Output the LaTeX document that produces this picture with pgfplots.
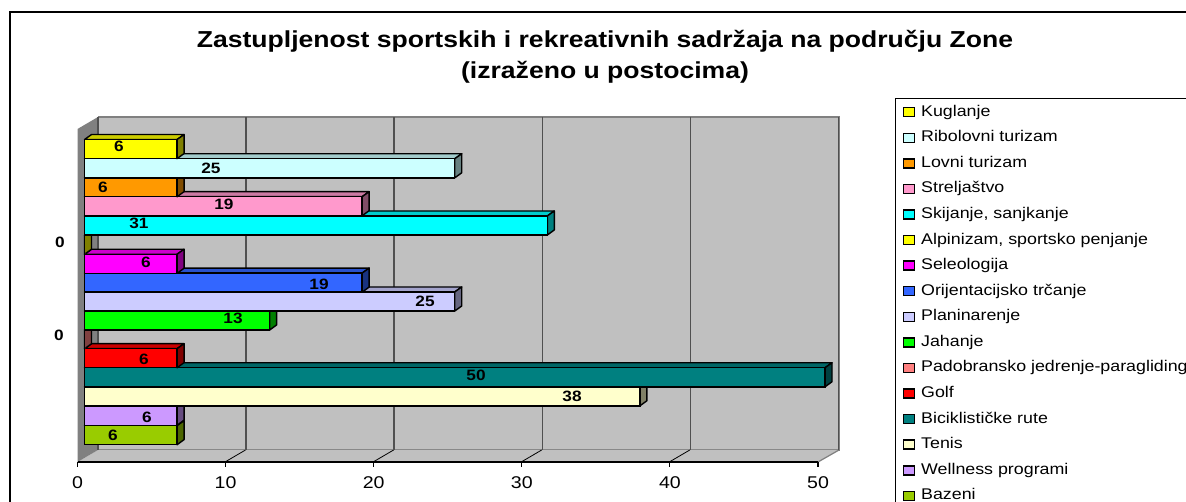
\documentclass[border=0pt]{standalone}
\usepackage{fontspec}
\setmainfont[FakeStretch=1.15]{Liberation Sans}
\usepackage{pgfplots}
\pgfplotsset{compat=1.18}
\definecolor{wallgray}{HTML}{C0C0C0}
\definecolor{sidegray}{HTML}{808080}
\definecolor{gridgray}{HTML}{505050}
\definecolor{cBazeni}{HTML}{99CC00}
\definecolor{cWellness}{HTML}{CC99FF}
\definecolor{cTenis}{HTML}{FFFFCC}
\definecolor{cBicikl}{HTML}{008080}
\definecolor{cGolf}{HTML}{FF0000}
\definecolor{cPadobran}{HTML}{FF8080}
\definecolor{cJahanje}{HTML}{00FF00}
\definecolor{cPlanin}{HTML}{CCCCFF}
\definecolor{cOrijent}{HTML}{3366FF}
\definecolor{cSeleo}{HTML}{FF00FF}
\definecolor{cAlpin}{HTML}{FFFF00}
\definecolor{cSkij}{HTML}{00FFFF}
\definecolor{cStrelj}{HTML}{FF99CC}
\definecolor{cLovni}{HTML}{FF9900}
\definecolor{cRibolov}{HTML}{CCFFFF}
\definecolor{cKuglanje}{HTML}{FFFF00}
% #1 value, #2 bar centre (pixel row), #3 colour, #4 legend text
\newcommand{\tdbar}[4]{%
  \pgfmathsetmacro{\vv}{#1}%
  \pgfmathsetmacro{\vd}{#1+0.4727}%
  \pgfmathsetmacro{\tp}{#2-9.545}%
  \pgfmathsetmacro{\bt}{#2+9.545}%
  \pgfmathsetmacro{\tb}{#2-14.545}%
  \pgfmathsetmacro{\bb}{#2+4.455}%
  \addplot[forget plot,xshift=7pt,draw=black,line width=1.4pt,line join=round,fill=#3!80!black]
    coordinates {(0,\tp) (0.4727,\tb) (\vd,\tb) (\vv,\tp)} --cycle;
  \addplot[forget plot,xshift=7pt,draw=black,line width=1.4pt,line join=round,fill=#3!50!black]
    coordinates {(\vv,\tp) (\vd,\tb) (\vd,\bb) (\vv,\bt)} --cycle;
  \addplot[xbar,bar width=19.09pt,xshift=7pt,draw=black,line width=1.4pt,fill=#3,
    legend image code/.code={\draw[fill=#3,draw=black,line width=1.5pt] (0pt,-4.5pt) rectangle (11pt,4.5pt);}]
    coordinates {(#1,#2)};
  \addlegendentry{#4}
}
\begin{document}
\begin{tikzpicture}[x=1pt,y=1pt]
\path[use as bounding box] (0,0) rectangle (1186,502);
\fill[white] (0,0) rectangle (1186,502);
% chart frame (page coordinates: y = 502 - pixel row)
\draw[black,line width=2pt] (1200,490) -- (10,490) -- (10,-10);
% 3D walls
\fill[wallgray] (98,385) rectangle (839,52);
\draw[sidegray,line width=1.6pt] (98,385) -- (839,385) -- (839,52) -- (98,52);
\fill[wallgray] (77.5,40) -- (98,52) -- (839,52) -- (818,40) -- cycle;
\draw[sidegray,line width=1.2pt] (818,40) -- (839,52);
\fill[sidegray] (77.5,373) -- (98,385) -- (98,52) -- (77.5,40) -- cycle;
\foreach \tx in {225,373.1,521.2,669.3} {\draw[black,line width=0.8pt] (\tx,40) -- (\tx+20.5,52);}
\begin{axis}[
  at={(77.5pt,40pt)},anchor=south west,
  scale only axis,width=740.5pt,height=333pt,
  xmin=0,xmax=50,ymin=129,ymax=462,y dir=reverse,
  clip=false,
  axis x line*=bottom,axis y line=none,
  xtick={0,10,20,30,40,50},ytick=\empty,
  tick align=outside,major tick length=5pt,
  x axis line style={black,line width=1.4pt,-},
  xtick style={black,line width=1.1pt},
  xmajorgrids,
  grid style={gridgray,line width=1.5pt,xshift=20.5pt,yshift=12pt},
  tick label style={font=\fontsize{17}{20}\selectfont,/pgf/number format/assume math mode=true},
  xticklabel style={yshift=-6pt},
  title={Zastupljenost sportskih i rekreativnih sadržaja na području Zone\\(izraženo u postocima)},
  title style={font=\fontsize{23.1}{31}\selectfont\bfseries,align=center,at={(0.7124,1.198)},anchor=center},
  reverse legend,
  legend cell align=left,
  legend style={at={(1.104,1.093)},anchor=north west,draw=black,line width=1.3pt,
    font=\fontsize{15.5}{15.5}\selectfont,
    inner xsep=7pt,inner ysep=6.5pt,row sep=11.58pt,
    nodes={inner sep=0pt,text height=11pt,text depth=3pt,line width=1.3pt},
    /tikz/every even column/.append style={column sep=6pt},
    /tikz/every odd column/.append style={column sep=6pt}},
]
\tdbar{6.25}{435.2}{cBazeni}{Bazeni}
\tdbar{6.25}{415.7}{cWellness}{Wellness programi}
\tdbar{37.5}{396.3}{cTenis}{Tenis}
\tdbar{50}{377.3}{cBicikl}{Biciklističke rute}
\tdbar{6.25}{358.2}{cGolf}{Golf}
\tdbar{0}{339.3}{cPadobran}{Padobransko jedrenje-paragliding}
\tdbar{12.5}{320.5}{cJahanje}{Jahanje}
\tdbar{25}{301.5}{cPlanin}{Planinarenje}
\tdbar{18.75}{282.6}{cOrijent}{Orijentacijsko trčanje}
\tdbar{6.25}{263.8}{cSeleo}{Seleologija}
\tdbar{0}{244.8}{cAlpin}{Alpinizam, sportsko penjanje}
\tdbar{31.25}{225.5}{cSkij}{Skijanje, sanjkanje}
\tdbar{18.75}{206.2}{cStrelj}{Streljaštvo}
\tdbar{6.25}{187.2}{cLovni}{Lovni turizam}
\tdbar{25}{168.3}{cRibolov}{Ribolovni turizam}
\tdbar{6.25}{149.1}{cKuglanje}{Kuglanje}
\end{axis}
\begin{scope}[every node/.style={font=\fontsize{15}{15}\selectfont\bfseries,inner sep=0pt}]
\node at (119,356) {6};
\node at (211,334) {25};
\node at (103,315) {6};
\node at (224,298) {19};
\node at (139,279) {31};
\node at (60,260) {0};
\node at (146,240) {6};
\node at (319,218) {19};
\node at (425,201) {25};
\node at (233,184) {13};
\node at (59,167) {0};
\node at (144,143) {6};
\node at (476,127) {50};
\node at (572,106) {38};
\node at (147,85) {6};
\node at (113,67) {6};
\end{scope}
\end{tikzpicture}
\end{document}
